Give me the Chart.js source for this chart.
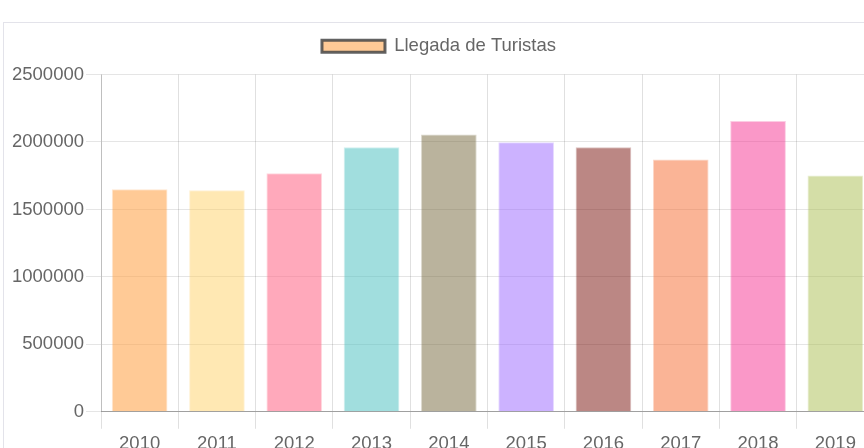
<!DOCTYPE html>
<html lang="es">
<head>
<meta charset="utf-8">
<title>Llegada de Turistas</title>
<script src="https://cdn.jsdelivr.net/npm/chart.js@4/dist/chart.umd.min.js"></script>
<style>
    html, body {
        margin: 0;
        padding: 0;
        width: 864px;
        height: 448px;
        overflow: hidden;
        background: #fff;
    }
    .card {
        position: absolute;
        left: 3px;
        top: 22px;
        width: 900px;
        height: 460px;
        border-top: 1px solid #e3e3ea;
        border-left: 1px solid #e3e3ea;
    }
    .chart-box {
        position: absolute;
        left: 0;
        top: 0;
        width: 870px;
        height: 436px;
    }
</style>
</head>
<body>
<div class="card">
    <div class="chart-box">
        <canvas id="turistasChart"></canvas>
    </div>
</div>
<script>
// Datos del gráfico
const years = ['2010', '2011', '2012', '2013', '2014', '2015', '2016', '2017', '2018', '2019'];
const arrivals = [1650000, 1642000, 1768000, 1961000, 2055000, 1998000, 1961000, 1870000, 2155000, 1751000];
const barColors = [
    'rgba(255, 159, 64, 0.55)',
    'rgba(255, 205, 86, 0.45)',
    'rgba(255, 99, 132, 0.55)',
    'rgba(75, 192, 192, 0.52)',
    'rgba(117, 103, 60, 0.5)',
    'rgba(153, 102, 255, 0.5)',
    'rgba(120, 15, 10, 0.5)',
    'rgba(245, 105, 45, 0.5)',
    'rgba(245, 50, 145, 0.5)',
    'rgba(170, 190, 80, 0.5)'
];
const borderColors = barColors.map(c => c.replace(/[\d.]+\)$/, '0.25)'));

const FONT = "'Liberation Sans', Helvetica, Arial, sans-serif";
const FONT_SIZE = 18.5;

document.addEventListener('DOMContentLoaded', function() {
    const ctx = document.getElementById('turistasChart').getContext('2d');

    new Chart(ctx, {
        type: 'bar',
        data: {
            labels: years,
            datasets: [{
                label: 'Llegada de Turistas',
                data: arrivals,
                backgroundColor: barColors,
                borderColor: borderColors,
                borderWidth: 1
            }]
        },
        options: {
            responsive: true,
            maintainAspectRatio: false,
            animation: false,
            layout: {
                padding: { left: 0, right: 0, top: 4, bottom: 0 }
            },
            plugins: {
                tooltip: { enabled: false },
                // título vacío usado como separador entre leyenda y gráfico
                title: {
                    display: true,
                    text: '',
                    weight: 500,
                    font: { size: 1, lineHeight: 1 },
                    padding: { top: 0, bottom: 8 }
                },
                legend: {
                    position: 'top',
                    labels: {
                        color: '#666',
                        font: { family: FONT, size: FONT_SIZE },
                        boxWidth: 63,
                        boxHeight: 12,
                        padding: 10,
                        generateLabels: () => [{
                            text: 'Llegada de Turistas',
                            fillStyle: barColors[0],
                            strokeStyle: 'rgba(70, 70, 70, 0.85)',
                            fontColor: '#666',
                            lineWidth: 3,
                            hidden: false,
                            datasetIndex: 0
                        }]
                    }
                }
            },
            scales: {
                x: {
                    grid: {
                        color: 'rgba(0, 0, 0, 0.12)',
                        tickLength: 17,
                        offset: true
                    },
                    border: { color: 'rgba(0, 0, 0, 0.3)' },
                    ticks: {
                        color: '#666',
                        font: { family: FONT, size: FONT_SIZE },
                        padding: 4,
                        maxRotation: 0
                    }
                },
                y: {
                    min: 0,
                    max: 2500000,
                    // ancho fijo del eje para que la leyenda quede centrada en todo el lienzo
                    afterFit: scale => { scale.width = 97; },
                    grid: {
                        color: 'rgba(0, 0, 0, 0.1)',
                        tickLength: 15
                    },
                    border: { color: 'rgba(0, 0, 0, 0.15)' },
                    ticks: {
                        stepSize: 500000,
                        color: '#666',
                        font: { family: FONT, size: FONT_SIZE },
                        padding: 2,
                        callback: value => String(value)
                    }
                }
            }
        }
    });
});
</script>
</body>
</html>
